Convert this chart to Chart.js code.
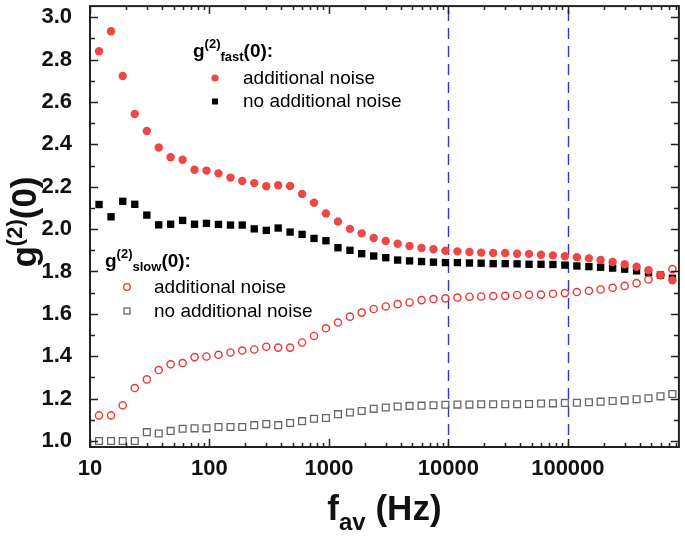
<!DOCTYPE html>
<html>
<head>
<meta charset="utf-8">
<script src="https://cdn.jsdelivr.net/npm/chart.js@4"></script>
<style>
  html, body { margin: 0; padding: 0; background: #fff; }
  #wrap { width: 685px; height: 540px; }
</style>
</head>
<body>
<div id="wrap"><canvas id="chart" width="685" height="540"></canvas></div>
<script>
// averaging frequency (Hz)
const freqHz = [11.9, 15.0, 18.8, 23.7, 29.9, 37.6, 47.3, 59.6, 75.0, 94.4,
  119, 150, 188, 237, 299, 376, 473, 596, 750, 944,
  1190, 1500, 1880, 2370, 2990, 3760, 4730, 5960, 7500, 9440,
  11900, 15000, 18800, 23700, 29900, 37600, 47300, 59600, 75000, 94400,
  119000, 150000, 188000, 237000, 299000, 376000, 473000, 596000, 750000];

// g2 fast, additional noise (red filled circles)
const fastNoise = [2.839, 2.933, 2.722, 2.543, 2.463, 2.385, 2.339, 2.327, 2.280, 2.276,
  2.263, 2.243, 2.227, 2.217, 2.202, 2.207, 2.203, 2.166, 2.124, 2.074,
  2.036, 2.001, 1.980, 1.958, 1.944, 1.931, 1.920, 1.911, 1.905, 1.898,
  1.895, 1.892, 1.889, 1.887, 1.887, 1.884, 1.883, 1.879, 1.876, 1.872,
  1.867, 1.862, 1.854, 1.845, 1.834, 1.822, 1.806, 1.783, 1.759];

// g2 fast, no additional noise (black squares)
const fastNoNoise = [2.116, 2.058, 2.131, 2.117, 2.066, 2.020, 2.023, 2.041, 2.023, 2.027,
  2.022, 2.019, 2.019, 2.001, 1.994, 2.005, 1.986, 1.975, 1.956, 1.945,
  1.912, 1.900, 1.884, 1.873, 1.865, 1.854, 1.850, 1.847, 1.844, 1.842,
  1.842, 1.840, 1.839, 1.837, 1.837, 1.836, 1.834, 1.834, 1.833, 1.830,
  1.826, 1.823, 1.820, 1.816, 1.811, 1.803, 1.795, 1.783, 1.768];

// g2 slow, additional noise (red open circles)
const slowNoise = [1.121, 1.121, 1.169, 1.250, 1.291, 1.335, 1.362, 1.368, 1.396, 1.399,
  1.407, 1.418, 1.427, 1.432, 1.445, 1.441, 1.441, 1.465, 1.496, 1.532,
  1.559, 1.587, 1.606, 1.623, 1.635, 1.646, 1.654, 1.665, 1.670, 1.673,
  1.677, 1.681, 1.682, 1.684, 1.685, 1.689, 1.690, 1.691, 1.695, 1.698,
  1.703, 1.709, 1.715, 1.723, 1.732, 1.745, 1.762, 1.783, 1.811];

// g2 slow, no additional noise (grey open squares)
const slowNoNoise = [1.000, 1.000, 1.000, 1.000, 1.042, 1.036, 1.048, 1.058, 1.060, 1.060,
  1.066, 1.066, 1.066, 1.075, 1.080, 1.075, 1.085, 1.094, 1.105, 1.109,
  1.127, 1.135, 1.142, 1.152, 1.158, 1.163, 1.166, 1.167, 1.169, 1.171,
  1.172, 1.172, 1.174, 1.174, 1.174, 1.174, 1.175, 1.177, 1.178, 1.180,
  1.181, 1.183, 1.186, 1.189, 1.192, 1.197, 1.202, 1.211, 1.222];

const xTicks = [10, 100, 1000, 10000, 100000];
const yTicks = [1.0, 1.2, 1.4, 1.6, 1.8, 2.0, 2.2, 2.4, 2.6, 2.8, 3.0];
const markerLines = [10000, 100000];
const legendLabels = ['additional noise', 'no additional noise'];

const FONT = "'Liberation Sans', Arial, Helvetica, sans-serif";
const RED = '#ef4646';
const RED_OPEN = '#f03535';
const GREY = '#666666';

function toPoints(ys) {
    return ys.map((y, i) => ({ x: freqHz[i], y: y }));
}

// draws a run of text pieces (for super/subscripts), returns width
function richText(ctx, x, y, parts, measureOnly) {
    let cx = x;
    parts.forEach(p => {
        ctx.font = 'bold ' + p.size + 'px ' + FONT;
        if (!measureOnly) ctx.fillText(p.t, cx, y + (p.dy || 0));
        cx += ctx.measureText(p.t).width;
    });
    return cx - x;
}

const decorPlugin = {
    id: 'decor',
    beforeDatasetsDraw(chart) {
        const ctx = chart.ctx;
        const xs = chart.scales.x;
        const { top, bottom } = chart.chartArea;
        ctx.save();
        ctx.strokeStyle = '#3434d6';
        ctx.lineWidth = 1.4;
        ctx.setLineDash([11, 7]);
        markerLines.forEach(v => {
            const px = Math.round(xs.getPixelForValue(v)) + 0.5;
            ctx.beginPath();
            ctx.moveTo(px, top + 4);
            ctx.lineTo(px, bottom);
            ctx.stroke();
        });
        ctx.restore();
    },
    afterDraw(chart) {
        const ctx = chart.ctx;
        const xs = chart.scales.x;
        const ys = chart.scales.y;
        const { left, right, top, bottom } = chart.chartArea;
        ctx.save();

        // frame
        ctx.strokeStyle = '#222';
        ctx.lineWidth = 2;
        ctx.strokeRect(left, top, right - left, bottom - top);

        // inward ticks
        ctx.lineWidth = 1.5;
        ctx.beginPath();
        const yTick = (v, len) => {
            const py = Math.round(ys.getPixelForValue(v)) + 0.5;
            ctx.moveTo(left, py); ctx.lineTo(left + len, py);
            ctx.moveTo(right, py); ctx.lineTo(right - len, py);
        };
        yTicks.forEach((v, i) => {
            yTick(v, 8);
            if (i < yTicks.length - 1) yTick((v + yTicks[i + 1]) / 2, 5);
        });
        const xTick = (v, len) => {
            const px = Math.round(xs.getPixelForValue(v)) + 0.5;
            ctx.moveTo(px, bottom); ctx.lineTo(px, bottom - len);
            ctx.moveTo(px, top); ctx.lineTo(px, top + len);
        };
        xTicks.forEach(d => {
            xTick(d, 8);
            for (let m = 2; m <= 9; m++) {
                if (m * d <= xs.max) xTick(m * d, 4);
            }
        });
        ctx.stroke();

        // axis titles
        ctx.fillStyle = '#111';
        ctx.textBaseline = 'alphabetic';
        const xTitle = [{ t: 'f', size: 35 }, { t: 'av', size: 24, dy: 10 }, { t: ' (Hz)', size: 35 }];
        const wX = richText(ctx, 0, 0, xTitle, true);
        richText(ctx, (left + right) / 2 - wX / 2, 520, xTitle);

        const yTitle = [{ t: 'g', size: 35 }, { t: '(2)', size: 22, dy: -14 }, { t: '(0)', size: 35 }];
        const wY = richText(ctx, 0, 0, yTitle, true);
        ctx.save();
        ctx.translate(36, 222);
        ctx.rotate(-Math.PI / 2);
        richText(ctx, -wY / 2, 0, yTitle);
        ctx.restore();

        // legends
        ctx.fillStyle = '#000';
        richText(ctx, 193, 57, [{ t: 'g', size: 19 }, { t: '(2)', size: 13, dy: -9 }, { t: 'fast', size: 13, dy: 4 }, { t: '(0):', size: 19 }]);
        richText(ctx, 105, 267, [{ t: 'g', size: 19 }, { t: '(2)', size: 13, dy: -9 }, { t: 'slow', size: 13, dy: 4 }, { t: '(0):', size: 19 }]);

        ctx.font = '19px ' + FONT;
        ctx.textBaseline = 'middle';
        ctx.fillText(legendLabels[0], 243, 79);
        ctx.fillText(legendLabels[1], 243, 102);
        ctx.fillText(legendLabels[0], 154, 288);
        ctx.fillText(legendLabels[1], 154, 312);

        // legend markers
        ctx.fillStyle = RED;
        ctx.beginPath(); ctx.arc(215, 78, 3.6, 0, Math.PI * 2); ctx.fill();
        ctx.fillStyle = '#000';
        ctx.fillRect(212, 98.5, 6, 6);
        ctx.strokeStyle = RED_OPEN;
        ctx.lineWidth = 1.3;
        ctx.beginPath(); ctx.arc(127, 287, 3.3, 0, Math.PI * 2); ctx.stroke();
        ctx.strokeStyle = GREY;
        ctx.strokeRect(124, 308, 6, 6);

        ctx.restore();
    }
};

new Chart(document.getElementById('chart'), {
    type: 'scatter',
    data: {
        datasets: [{
            label: 'g2 slow, additional noise',
            data: toPoints(slowNoise),
            pointStyle: 'circle',
            pointRadius: 3.6,
            borderWidth: 1.4,
            borderColor: RED_OPEN,
            backgroundColor: 'rgba(255,255,255,0)'
        }, {
            label: 'g2 fast, additional noise',
            data: toPoints(fastNoise),
            pointStyle: 'circle',
            pointRadius: 4.2,
            borderWidth: 0,
            borderColor: RED,
            backgroundColor: RED
        }, {
            label: 'g2 fast, no additional noise',
            data: toPoints(fastNoNoise),
            pointStyle: 'rect',
            pointRadius: 5.2,
            borderWidth: 0,
            borderColor: '#000',
            backgroundColor: '#000'
        }, {
            label: 'g2 slow, no additional noise',
            data: toPoints(slowNoNoise),
            pointStyle: 'rect',
            pointRadius: 4.8,
            borderWidth: 1.3,
            borderColor: GREY,
            backgroundColor: 'rgba(255,255,255,0)'
        }]
    },
    options: {
        responsive: false,
        animation: false,
        layout: { padding: { left: 0, right: 2, top: 4, bottom: 0 } },
        plugins: {
            legend: { display: false },
            tooltip: { enabled: false }
        },
        scales: {
            x: {
                type: 'logarithmic',
                min: 10,
                max: 850000,
                grid: { display: false },
                border: { display: false },
                afterBuildTicks: scale => { scale.ticks = xTicks.map(v => ({ value: v, major: true })); },
                afterFit: scale => {
                    scale.height = 93;
                    scale.paddingLeft = 0;
                    scale.paddingRight = 0;
                },
                ticks: {
                    autoSkip: false,
                    maxRotation: 0,
                    padding: 1,
                    color: '#111',
                    font: { family: FONT, size: 22, weight: 'bold' },
                    callback: value => String(value)
                }
            },
            y: {
                type: 'linear',
                min: 0.972,
                max: 3.052,
                grid: { display: false },
                border: { display: false },
                afterBuildTicks: scale => { scale.ticks = yTicks.map(v => ({ value: v })); },
                afterFit: scale => {
                    scale.width = 90;
                    scale.paddingTop = 0;
                    scale.paddingBottom = 0;
                },
                ticks: {
                    padding: 10,
                    color: '#111',
                    font: { family: FONT, size: 22, weight: 'bold' },
                    callback: value => Number(value).toFixed(1)
                }
            }
        }
    },
    plugins: [decorPlugin]
});
</script>
</body>
</html>
